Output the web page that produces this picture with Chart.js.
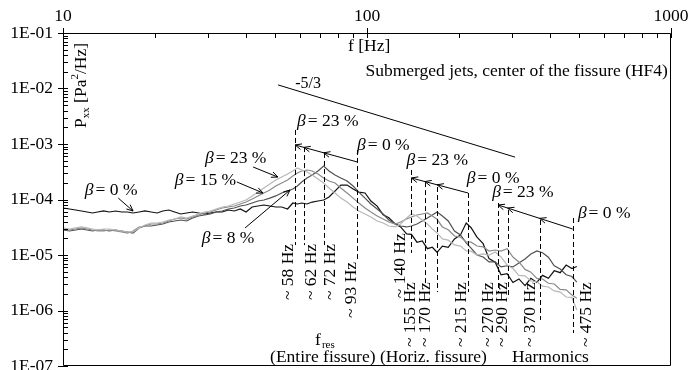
<!DOCTYPE html>
<html>
<head>
<meta charset="utf-8">
<script src="https://cdn.jsdelivr.net/npm/chart.js@4.4.1/dist/chart.umd.min.js"></script>
<style>
  html, body { margin: 0; padding: 0; background: #fff; }
  #wrap { position: relative; width: 689px; height: 370px; }
</style>
</head>
<body>
<div id="wrap"><canvas id="pxx"></canvas></div>
<script>
// frequency grid of the spectra [Hz]
const freqs = [10, 10.5, 11, 11.5, 12, 12.5, 13, 13.6, 14.2, 14.9,
  15.6, 16.3, 17, 17.8, 18.6, 19.5, 20.4, 21.3, 22.3, 23.3,
  24.4, 25.5, 26.7, 27.9, 29.2, 30.5, 31.9, 33.4, 35, 36.6,
  38.3, 40, 41.9, 43.8, 45.8, 47.9, 50.1, 52.4, 54.8, 57,
  59, 61, 63.5, 66, 69, 72, 75, 78.5, 82, 86,
  90, 94, 98.5, 103, 108, 113, 118, 124, 129, 135,
  140, 146, 152, 158, 164, 170, 177, 185, 194, 203,
  212, 220, 230, 241, 252, 264, 276, 289, 302, 316,
  331, 346, 362, 378, 395, 413, 432, 452, 472, 490];

// Pxx [Pa^2/Hz] for each air fraction beta
const pxxBeta0 = [7.03e-5, 6.74e-5, 6.47e-5, 6.21e-5, 5.95e-5, 5.71e-5, 5.95e-5, 6.21e-5, 5.95e-5, 6.21e-5,
  5.95e-5, 5.95e-5, 5.71e-5, 5.95e-5, 6.21e-5, 5.95e-5, 5.71e-5, 6.21e-5, 6.47e-5, 5.95e-5,
  5.48e-5, 5.71e-5, 5.95e-5, 5.71e-5, 5.48e-5, 5.71e-5, 5.95e-5, 5.95e-5, 6.47e-5, 6.21e-5,
  6.74e-5, 5.95e-5, 7.33e-5, 7.64e-5, 7.96e-5, 7.64e-5, 7.33e-5, 7.33e-5, 6.74e-5, 8.65e-5,
  8.3e-5, 8.65e-5, 8.3e-5, 9.0e-5, 9.4e-5, 9.8e-5, 1.11e-4, 1.42e-4, 1.82e-4, 1.82e-4,
  1.55e-4, 1.36e-4, 1.31e-4, 9.4e-5, 7.6e-5, 5.3e-5, 4.7e-5, 3.6e-5, 3.2e-5, 2.4e-5,
  2.35e-5, 1.7e-5, 1.8e-5, 1.3e-5, 1.38e-5, 1.12e-5, 1.45e-5, 1.38e-5, 1.95e-5, 2.3e-5,
  3.77e-5, 3.1e-5, 2.1e-5, 1.6e-5, 8.6e-6, 7.4e-6, 4.4e-6, 4.6e-6, 3.2e-6, 3.7e-6,
  2.8e-6, 3.8e-6, 3.2e-6, 4.3e-6, 3.8e-6, 5.2e-6, 4.8e-6, 6.6e-6, 5.7e-6, 6.2e-6];

const pxxBeta8 = [2.82e-5, 2.71e-5, 2.82e-5, 2.94e-5, 2.82e-5, 2.71e-5, 2.82e-5, 2.82e-5, 2.71e-5, 2.82e-5,
  2.71e-5, 2.6e-5, 2.49e-5, 3.07e-5, 3.33e-5, 3.33e-5, 3.47e-5, 3.62e-5, 3.93e-5, 4.1e-5,
  4.27e-5, 4.1e-5, 4.64e-5, 5.04e-5, 5.26e-5, 5.48e-5, 5.95e-5, 6.21e-5, 6.74e-5, 7.03e-5,
  7.64e-5, 7.96e-5, 8.65e-5, 9.4e-5, 9.8e-5, 1.06e-4, 1.16e-4, 1.31e-4, 1.42e-4, 1.55e-4,
  1.75e-4, 2.06e-4, 2.44e-4, 2.76e-4, 3.26e-4, 4.01e-4, 3.26e-4, 2.76e-4, 2.44e-4, 2.15e-4,
  1.75e-4, 1.36e-4, 1.06e-4, 8.3e-5, 6.74e-5, 5.48e-5, 4.27e-5, 3.62e-5, 3.33e-5, 3.2e-5,
  3.33e-5, 3.62e-5, 4.1e-5, 4.64e-5, 5.26e-5, 5.95e-5, 5.04e-5, 4.1e-5, 2.7e-5, 2.3e-5,
  1.65e-5, 1.33e-5, 1.0e-5, 9.2e-6, 7.5e-6, 7.5e-6, 6.1e-6, 6.4e-6, 6.1e-6, 7.2e-6,
  8.5e-6, 1.04e-5, 1.18e-5, 1.1e-5, 9.1e-6, 6.4e-6, 5.6e-6, 4.4e-6, 4.1e-6, 3.25e-6];

const pxxBeta15 = [2.94e-5, 2.82e-5, 2.94e-5, 3.07e-5, 2.94e-5, 2.82e-5, 2.71e-5, 2.71e-5, 2.82e-5, 2.71e-5,
  2.6e-5, 2.49e-5, 2.71e-5, 3.2e-5, 3.33e-5, 3.62e-5, 3.62e-5, 3.77e-5, 4.1e-5, 4.45e-5,
  4.64e-5, 4.45e-5, 4.84e-5, 5.26e-5, 5.71e-5, 5.95e-5, 6.47e-5, 7.03e-5, 7.33e-5, 7.64e-5,
  8.3e-5, 9.0e-5, 1.02e-4, 1.16e-4, 1.31e-4, 1.48e-4, 1.75e-4, 1.98e-4, 2.24e-4, 2.65e-4,
  3.0e-4, 3.26e-4, 3.4e-4, 3.26e-4, 2.88e-4, 2.44e-4, 2.15e-4, 1.98e-4, 1.61e-4, 1.31e-4,
  1.06e-4, 8.65e-5, 7.03e-5, 5.95e-5, 5.04e-5, 4.45e-5, 3.93e-5, 3.62e-5, 3.93e-5, 4.45e-5,
  4.84e-5, 5.26e-5, 5.48e-5, 5.71e-5, 5.04e-5, 4.4e-5, 3.2e-5, 2.85e-5, 2.2e-5, 2.1e-5,
  1.72e-5, 1.7e-5, 1.45e-5, 1.4e-5, 1.18e-5, 1.23e-5, 1.18e-5, 1.3e-5, 9.2e-6, 7.5e-6,
  5.5e-6, 4.9e-6, 3.8e-6, 3.7e-6, 3.1e-6, 3.0e-6, 2.4e-6, 2.35e-6, 1.9e-6, 1.67e-6];

const pxxBeta23 = [3.07e-5, 2.94e-5, 3.07e-5, 3.2e-5, 3.07e-5, 2.94e-5, 2.82e-5, 2.94e-5, 2.94e-5, 2.82e-5,
  2.71e-5, 2.6e-5, 2.6e-5, 3.07e-5, 3.47e-5, 3.77e-5, 3.77e-5, 3.93e-5, 4.27e-5, 4.45e-5,
  4.84e-5, 4.64e-5, 5.04e-5, 5.48e-5, 5.95e-5, 6.21e-5, 6.74e-5, 7.33e-5, 7.64e-5, 8.3e-5,
  9.0e-5, 9.8e-5, 1.16e-4, 1.36e-4, 1.61e-4, 1.9e-4, 2.24e-4, 2.54e-4, 2.88e-4, 3.26e-4,
  3.69e-4, 3.4e-4, 3.13e-4, 2.76e-4, 2.34e-4, 1.98e-4, 1.61e-4, 1.31e-4, 1.06e-4, 9.0e-5,
  7.33e-5, 6.21e-5, 5.48e-5, 4.84e-5, 4.1e-5, 3.77e-5, 3.33e-5, 3.2e-5, 3.62e-5, 4.64e-5,
  5.48e-5, 5.04e-5, 4.27e-5, 3.62e-5, 2.94e-5, 2.5e-5, 1.95e-5, 1.85e-5, 1.52e-5, 1.45e-5,
  1.18e-5, 1.17e-5, 1.0e-5, 1.05e-5, 1.0e-5, 1.13e-5, 9.2e-6, 6.6e-6, 5.7e-6, 4.3e-6,
  4.2e-6, 3.4e-6, 3.3e-6, 2.75e-6, 2.65e-6, 2.25e-6, 2.15e-6, 1.75e-6, 1.72e-6, 1.02e-6];

// axis limits
const fMin = 10, fMax = 1000;
const pMin = 1e-7, pMax = 1e-1;

// resonance markers (dashed lines) and their labels
const resFreqs  = [58, 62, 72, 93, 140, 155, 170, 215, 270, 290, 370, 475];
const resTop    = [1.79e-3, 8.8e-4, 6.9e-4, 7.8e-4, 3.4e-4, 2.06e-4, 1.68e-4, 1.31e-4, 8.65e-5, 6.47e-5, 4.27e-5, 4.64e-5];
const resBottom = [1.51e-5, 1.51e-5, 1.51e-5, 7.5e-6, 1.09e-5, 2.9e-6, 2.15e-6, 2.15e-6, 2.15e-6, 1.67e-6, 6.75e-7, 3.93e-7];
const resLabelFoot = [1.54e-6, 1.54e-6, 1.54e-6, 7.3e-7, 1.67e-6, 2.2e-7, 2.2e-7, 2.2e-7, 2.2e-7, 2.2e-7, 2.2e-7, 2.2e-7];
const resLabelDx   = [-7, 8, 7, -6, -11, -14, -12, -7, -10, -5, -9, 14];

// shift of the resonance with beta: from beta = 0 % back to beta = 23 %
const shiftArrows = [
  { from: [93, 4.74e-4], to: [58, 9.6e-4], heads: [58, 62, 72] },
  { from: [215, 1.31e-4], to: [140, 2.44e-4], heads: [140, 155, 170] },
  { from: [475, 2.94e-5], to: [270, 7.96e-5], heads: [270, 290, 370] }
];

// beta labels: text, left edge [Hz], middle [Pa^2/Hz]
const betaLabels = [
  ['0 %', 11.8, 1.48e-4], ['23 %', 29.3, 5.6e-4], ['15 %', 23.3, 2.24e-4], ['8 %', 28.6, 2.02e-5],
  ['23 %', 58.9, 2.6e-3], ['0 %', 92.7, 9.6e-4],
  ['23 %', 135, 5.15e-4], ['0 %', 213, 2.44e-4],
  ['23 %', 258, 1.36e-4], ['0 %', 494, 5.7e-5]
];
// pointers from the left labels to their curves
const betaPointers = [
  [[15.2, 1.06e-4], [17.0, 6.2e-5]],
  [[42.2, 3.85e-4], [50.9, 2.54e-4]],
  [[37.3, 2.07e-4], [45.5, 1.31e-4]],
  [[39.7, 3.07e-5], [55.8, 1.48e-4]]
];

// -5/3 reference slope
const slopeLine = [[51, 1.16e-2], [307, 5.8e-4]];

const serif = '"Liberation Serif", "Times New Roman", serif';
const F = 17.5;

function isDecade(v) {
  const l = Math.log10(v);
  return Math.abs(l - Math.round(l)) < 1e-6;
}

function arrowHead(ctx, x, y, ang) {
  const len = 7, spread = 0.42;
  ctx.beginPath();
  ctx.moveTo(x - len * Math.cos(ang - spread), y - len * Math.sin(ang - spread));
  ctx.lineTo(x, y);
  ctx.lineTo(x - len * Math.cos(ang + spread), y - len * Math.sin(ang + spread));
  ctx.stroke();
}

function betaText(ctx, x, y, rest) {
  ctx.textAlign = 'left';
  ctx.textBaseline = 'middle';
  ctx.font = 'italic ' + F + 'px ' + serif;
  ctx.fillText('β', x, y);
  const w = ctx.measureText('β').width;
  ctx.font = F + 'px ' + serif;
  ctx.fillText('= ' + rest, x + w + 2, y);
}

// frame and log ticks: majors cross the axis, minors point inward
const frameTicks = {
  id: 'frameTicks',
  afterDraw(chart) {
    const { ctx, chartArea: a, scales: { x, y } } = chart;
    ctx.save();
    ctx.strokeStyle = '#000';
    ctx.lineWidth = 1;
    ctx.beginPath();
    ctx.rect(a.left + 0.5, a.top + 0.5, a.right - a.left - 1, a.bottom - a.top - 1);
    ctx.stroke();
    ctx.beginPath();
    for (let d = -7; d <= -1; d++) {
      for (let m = 1; m <= (d === -1 ? 1 : 9); m++) {
        const yy = Math.round(y.getPixelForValue(m * Math.pow(10, d))) + 0.5;
        ctx.moveTo(m === 1 ? a.left - 5 : a.left, yy);
        ctx.lineTo(a.left + 5, yy);
      }
    }
    for (let d = 1; d <= 3; d++) {
      for (let m = 1; m <= (d === 3 ? 1 : 9); m++) {
        const xx = Math.round(x.getPixelForValue(m * Math.pow(10, d))) + 0.5;
        ctx.moveTo(xx, m === 1 ? a.top - 5 : a.top);
        ctx.lineTo(xx, a.top + 5);
      }
    }
    ctx.stroke();
    ctx.restore();
  }
};

// texts, markers and arrows on top of the spectra
const notes = {
  id: 'notes',
  afterDatasetsDraw(chart) {
    const { ctx, scales: { x, y } } = chart;
    const X = f => x.getPixelForValue(f);
    const Y = v => y.getPixelForValue(v);
    ctx.save();
    ctx.fillStyle = '#000';
    ctx.strokeStyle = '#000';

    // dashed resonance lines
    ctx.lineWidth = 1;
    ctx.setLineDash([5, 3]);
    resFreqs.forEach((f, i) => {
      const xx = Math.round(X(f)) + 0.5;
      ctx.beginPath();
      ctx.moveTo(xx, Y(resTop[i]));
      ctx.lineTo(xx, Y(resBottom[i]));
      ctx.stroke();
    });
    ctx.setLineDash([]);

    // rotated frequency labels
    ctx.font = F + 'px ' + serif;
    resFreqs.forEach((f, i) => {
      ctx.save();
      ctx.translate(X(f) + resLabelDx[i], Y(resLabelFoot[i]));
      ctx.rotate(-Math.PI / 2);
      ctx.textAlign = 'left';
      ctx.textBaseline = 'middle';
      ctx.fillText('~ ' + f + ' Hz', 0, 0);
      ctx.restore();
    });

    // shift arrows
    ctx.lineWidth = 1;
    shiftArrows.forEach(g => {
      const x0 = X(g.from[0]), y0 = Y(g.from[1]);
      const x1 = X(g.to[0]), y1 = Y(g.to[1]);
      ctx.beginPath();
      ctx.moveTo(x0, y0);
      ctx.lineTo(x1, y1);
      ctx.stroke();
      const ang = Math.atan2(y1 - y0, x1 - x0);
      g.heads.forEach(h => {
        const hx = X(h);
        const t = (hx - x0) / (x1 - x0);
        arrowHead(ctx, hx, y0 + t * (y1 - y0), ang);
      });
    });

    // pointers from left labels
    betaPointers.forEach(([p, q]) => {
      const x0 = X(p[0]), y0 = Y(p[1]), x1 = X(q[0]), y1 = Y(q[1]);
      ctx.beginPath();
      ctx.moveTo(x0, y0);
      ctx.lineTo(x1, y1);
      ctx.stroke();
      arrowHead(ctx, x1, y1, Math.atan2(y1 - y0, x1 - x0));
    });

    betaLabels.forEach(([t, f, v]) => betaText(ctx, X(f), Y(v), t));

    // -5/3 slope
    ctx.beginPath();
    ctx.moveTo(X(slopeLine[0][0]), Y(slopeLine[0][1]));
    ctx.lineTo(X(slopeLine[1][0]), Y(slopeLine[1][1]));
    ctx.stroke();
    ctx.font = '16px ' + serif;
    ctx.textAlign = 'center';
    ctx.textBaseline = 'middle';
    ctx.fillText('-5/3', X(64), Y(1.2e-2));

    // titles
    ctx.font = F + 'px ' + serif;
    ctx.textAlign = 'left';
    ctx.fillText('f [Hz]', X(86.6), Y(5.8e-2));
    ctx.textAlign = 'right';
    ctx.fillText('Submerged jets, center of the fissure (HF4)', X(977), Y(2.07e-2));

    // y title, rotated, with sub/superscripts
    ctx.save();
    ctx.translate(X(11.5), Y(1.94e-3));
    ctx.rotate(-Math.PI / 2);
    ctx.textAlign = 'left';
    ctx.textBaseline = 'middle';
    const parts = [['P', F, 0], ['xx', 11, 5], [' [Pa', F, 0], ['2', 11, -6], ['/Hz]', F, 0]];
    let cx = 0;
    parts.forEach(([s, size, dy]) => {
      ctx.font = size + 'px ' + serif;
      ctx.fillText(s, cx, dy);
      cx += ctx.measureText(s).width;
    });
    ctx.restore();

    // bottom captions
    ctx.textAlign = 'left';
    ctx.textBaseline = 'middle';
    ctx.font = F + 'px ' + serif;
    ctx.fillText('f', X(67.5), Y(2.94e-7));
    const fw = ctx.measureText('f').width;
    ctx.font = '11px ' + serif;
    ctx.fillText('res', X(67.5) + fw + 1, Y(2.94e-7) + 5);
    ctx.font = F + 'px ' + serif;
    ctx.fillText('(Entire fissure) (Horiz. fissure)', X(48), Y(1.45e-7));
    ctx.fillText('Harmonics', X(300), Y(1.45e-7));

    ctx.restore();
  }
};

const series = [
  { data: pxxBeta23, color: '#b8b8b8' },
  { data: pxxBeta15, color: '#8a8a8a' },
  { data: pxxBeta8, color: '#505050' },
  { data: pxxBeta0, color: '#111111' }
];

new Chart(document.getElementById('pxx'), {
  type: 'line',
  data: {
    datasets: series.map(s => ({
      data: freqs.map((f, i) => ({ x: f, y: s.data[i] })),
      borderColor: s.color,
      borderWidth: 1.2,
      pointRadius: 0,
      tension: 0,
      fill: false
    }))
  },
  options: {
    responsive: true,
    maintainAspectRatio: false,
    animation: false,
    devicePixelRatio: 1,
    layout: { padding: { top: 0, left: 0, right: 18, bottom: 4 } },
    plugins: { legend: { display: false }, tooltip: { enabled: false } },
    scales: {
      x: {
        type: 'logarithmic',
        position: 'top',
        min: fMin,
        max: fMax,
        grid: { display: false, drawTicks: false },
        border: { display: false },
        afterFit(s) { s.height = 33; s.paddingLeft = 0; s.paddingRight = 0; },
        ticks: {
          autoSkip: false,
          maxRotation: 0,
          padding: 6,
          color: '#000',
          font: { family: serif, size: F },
          callback: v => isDecade(v) ? String(Math.round(v)) : ''
        }
      },
      y: {
        type: 'logarithmic',
        min: pMin,
        max: pMax,
        grid: { display: false, drawTicks: false },
        border: { display: false },
        afterFit(s) { s.width = 63; s.paddingTop = 0; s.paddingBottom = 0; },
        ticks: {
          autoSkip: false,
          padding: 10,
          color: '#000',
          font: { family: serif, size: F },
          callback: v => isDecade(v) ? '1E-0' + (-Math.round(Math.log10(v))) : ''
        }
      }
    }
  },
  plugins: [frameTicks, notes]
});
</script>
</body>
</html>
